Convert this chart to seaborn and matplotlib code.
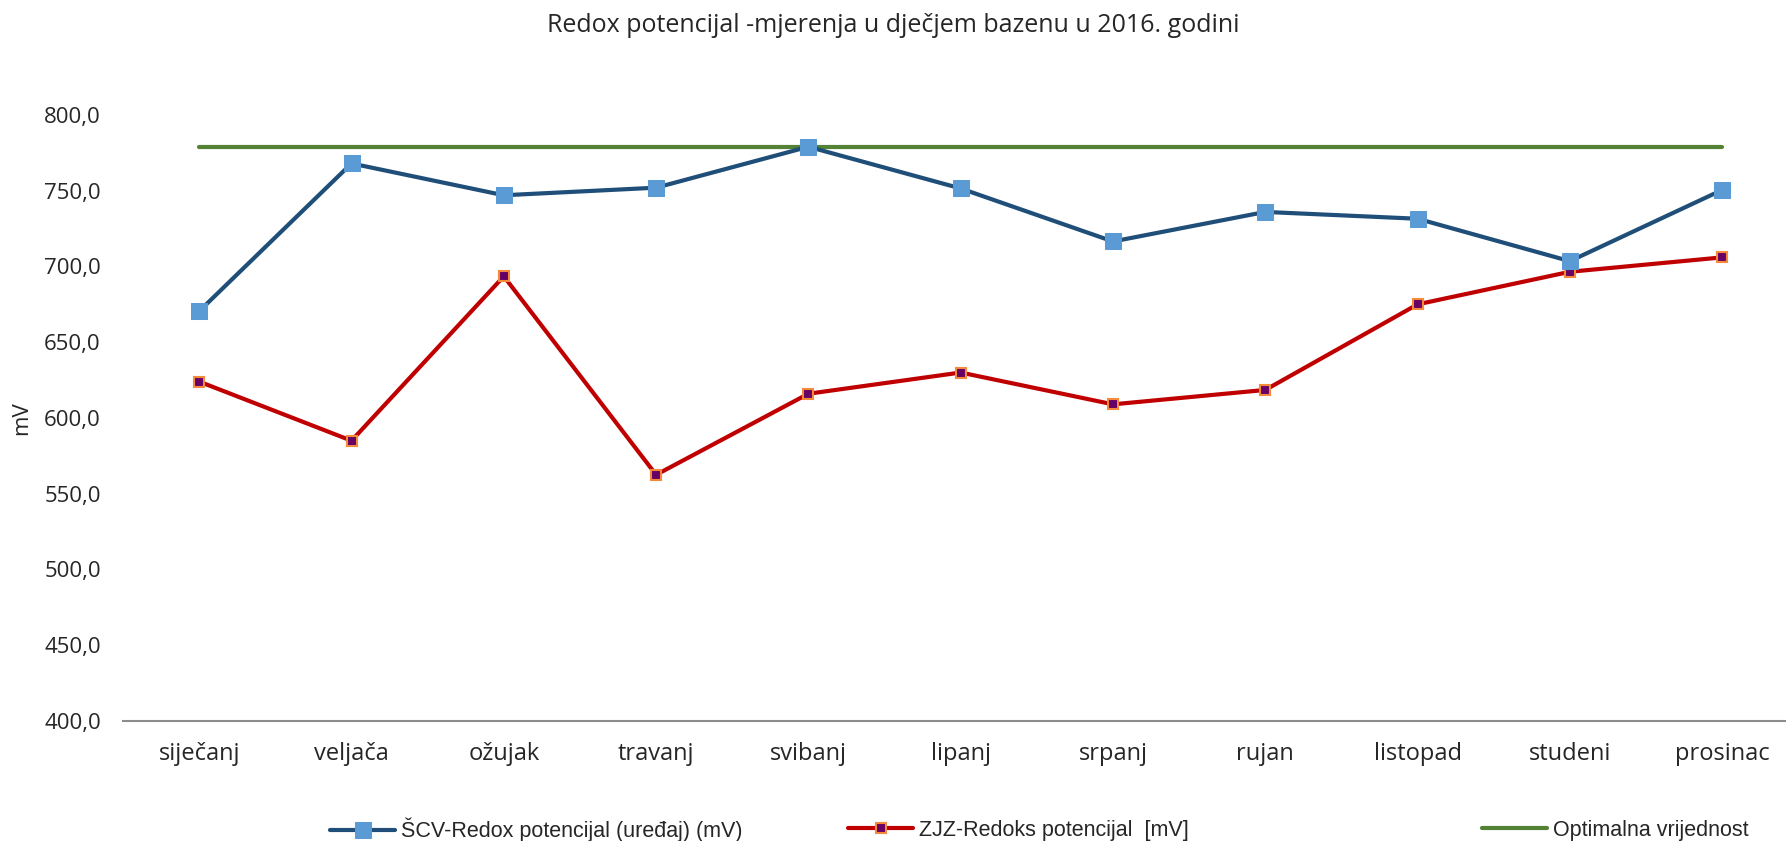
import numpy as np
import pandas as pd
import matplotlib
matplotlib.use("Agg")
import matplotlib.pyplot as plt
import matplotlib.ticker as mticker
import seaborn as sns

# --- podaci ---
mjeseci = ["siječanj", "veljača", "ožujak", "travanj", "svibanj", "lipanj",
           "srpanj", "rujan", "listopad", "studeni", "prosinac"]
scv_redox = [670.5, 768.0, 747.0, 752.0, 779.0, 751.5, 716.5, 736.0, 731.5, 703.5, 750.5]
zjz_redox = [624.0, 585.0, 693.5, 562.5, 616.0, 630.0, 609.0, 618.5, 675.0, 696.5, 706.0]
optimalna = [779.0] * len(mjeseci)

naziv_scv = "ŠCV-Redox potencijal (uređaj) (mV)"
naziv_zjz = "ZJZ-Redoks potencijal  [mV]"
naziv_opt = "Optimalna vrijednost"

df = pd.DataFrame({"mjesec": mjeseci, "scv": scv_redox, "zjz": zjz_redox, "opt": optimalna})

sns.set_theme(style="white")
plt.rcParams['font.family'] = ['Open Sans', 'DejaVu Sans']

fig = plt.figure(figsize=(17.86, 8.41), dpi=100)
ax = fig.add_axes([0.0689, 0.1427, 0.938, 0.7206])

sns.lineplot(data=df, x="mjesec", y="opt", ax=ax, color="#548235", lw=3.0,
             sort=False, label=naziv_opt, legend=False, zorder=1)
sns.lineplot(data=df, x="mjesec", y="scv", ax=ax, color="#1F4E79", lw=3.0,
             marker="s", markersize=11, markerfacecolor="#5B9BD5",
             markeredgecolor="#5B9BD5", sort=False, label=naziv_scv, legend=False, zorder=3)
sns.lineplot(data=df, x="mjesec", y="zjz", ax=ax, color="#C00000", lw=3.0,
             marker="s", markersize=7, markerfacecolor="#660066",
             markeredgecolor="#F58A3A", markeredgewidth=1.5, sort=False,
             label=naziv_zjz, legend=False, zorder=2)

ax.set_xlim(-0.5, len(mjeseci) - 0.5)
ax.set_ylim(400, 800)
ax.yaxis.set_major_locator(mticker.MultipleLocator(50))
ax.yaxis.set_major_formatter(mticker.FuncFormatter(lambda v, p: f"{v:.1f}".replace(".", ",")))
ax.tick_params(axis="y", labelsize=16, pad=16, length=0)
ax.tick_params(axis="x", labelsize=17, pad=15, length=0)
ax.set_xlabel("")
ax.set_ylabel("mV", fontsize=16)
ax.yaxis.set_label_coords(-0.0545, 0.5)

for s in ["top", "right", "left"]:
    ax.spines[s].set_visible(False)
ax.spines["bottom"].set_color("#8C8C8C")
ax.spines["bottom"].set_linewidth(1.5)

fig.suptitle("Redox potencijal -mjerenja u dječjem bazenu u 2016. godini",
             x=0.5, y=0.985, fontsize=18)

# legenda - tri odvojena unosa kao u originalu
handles, labels = ax.get_legend_handles_labels()
poz = {naziv_scv: 0.185, naziv_zjz: 0.475, naziv_opt: 0.830}
for h, l in zip(handles, labels):
    leg = fig.legend([h], [l], loc="center left", bbox_to_anchor=(poz[l], 0.013),
                     frameon=False, handlelength=3.0, handletextpad=0.3,
                     borderpad=0, borderaxespad=0,
                     prop={"family": ["Liberation Sans Narrow", "Liberation Sans"], "size": 15.5})

fig.savefig("out.png", dpi=100)
